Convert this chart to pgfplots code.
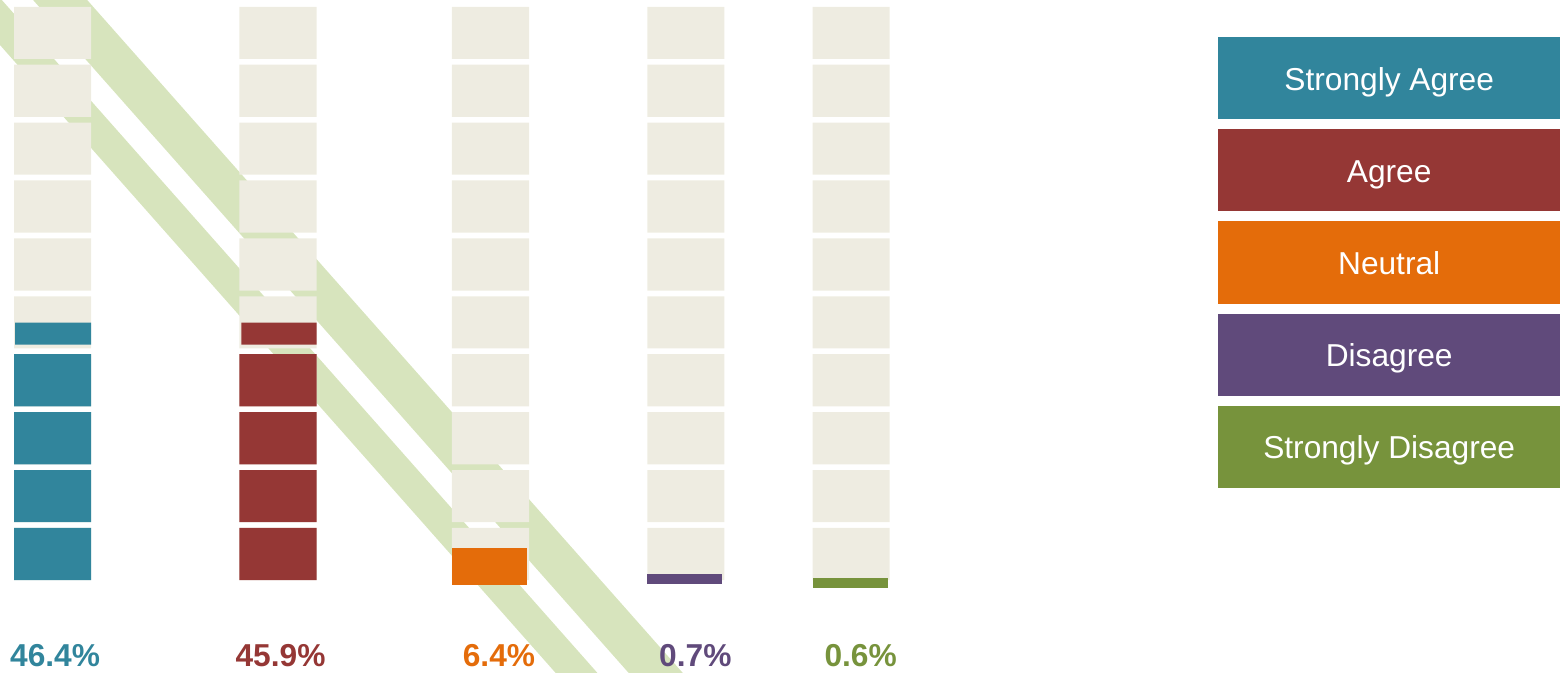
\documentclass[border=0pt]{standalone}
\usepackage{pgfplots}
\pgfplotsset{compat=1.18}
\usepackage{fontspec}
\setmainfont{Liberation Sans}

\definecolor{cSA}{HTML}{31859C}
\definecolor{cA}{HTML}{953735}
\definecolor{cN}{HTML}{E46C0A}
\definecolor{cD}{HTML}{604A7B}
\definecolor{cSD}{HTML}{77933C}
\definecolor{blk}{HTML}{EEECE1}
\definecolor{band}{HTML}{D7E4BD}

% x in pixels of the original picture, y in percent (one block = 10 %)
\begin{document}
\begin{tikzpicture}
\begin{axis}[
    width=15.6cm, height=6.71cm, scale only axis,
    xmin=0, xmax=1560, ymin=-15.92, ymax=100.17,
    hide axis, clip=true,
    unbounded coords=jump,
    every axis plot/.append style={draw=none},
]
% diagonal bands behind the columns
\addplot[fill=band] coordinates {(-57.5,103.63) (-15.9,103.63) (621.3,-20.93) (579.6,-20.93)} --cycle;
\addplot[fill=band] coordinates {(15.3,103.63) (69.3,103.63) (706.5,-20.93) (652.5,-20.93)} --cycle;

% empty blocks, ten per column
\addplot[fill=blk] coordinates {
 (14,0)(91,0)(91,9)(14,9)(nan,nan) (14,10)(91,10)(91,19)(14,19)(nan,nan)
 (14,20)(91,20)(91,29)(14,29)(nan,nan) (14,30)(91,30)(91,39)(14,39)(nan,nan)
 (14,40)(91,40)(91,49)(14,49)(nan,nan) (14,50)(91,50)(91,59)(14,59)(nan,nan)
 (14,60)(91,60)(91,69)(14,69)(nan,nan) (14,70)(91,70)(91,79)(14,79)(nan,nan)
 (14,80)(91,80)(91,89)(14,89)(nan,nan) (14,90)(91,90)(91,99)(14,99)};
\addplot[fill=blk] coordinates {
 (239,0)(316,0)(316,9)(239,9)(nan,nan) (239,10)(316,10)(316,19)(239,19)(nan,nan)
 (239,20)(316,20)(316,29)(239,29)(nan,nan) (239,30)(316,30)(316,39)(239,39)(nan,nan)
 (239,40)(316,40)(316,49)(239,49)(nan,nan) (239,50)(316,50)(316,59)(239,59)(nan,nan)
 (239,60)(316,60)(316,69)(239,69)(nan,nan) (239,70)(316,70)(316,79)(239,79)(nan,nan)
 (239,80)(316,80)(316,89)(239,89)(nan,nan) (239,90)(316,90)(316,99)(239,99)};
\addplot[fill=blk] coordinates {
 (451,0)(528,0)(528,9)(451,9)(nan,nan) (451,10)(528,10)(528,19)(451,19)(nan,nan)
 (451,20)(528,20)(528,29)(451,29)(nan,nan) (451,30)(528,30)(528,39)(451,39)(nan,nan)
 (451,40)(528,40)(528,49)(451,49)(nan,nan) (451,50)(528,50)(528,59)(451,59)(nan,nan)
 (451,60)(528,60)(528,69)(451,69)(nan,nan) (451,70)(528,70)(528,79)(451,79)(nan,nan)
 (451,80)(528,80)(528,89)(451,89)(nan,nan) (451,90)(528,90)(528,99)(451,99)};
\addplot[fill=blk] coordinates {
 (646,0)(723,0)(723,9)(646,9)(nan,nan) (646,10)(723,10)(723,19)(646,19)(nan,nan)
 (646,20)(723,20)(723,29)(646,29)(nan,nan) (646,30)(723,30)(723,39)(646,39)(nan,nan)
 (646,40)(723,40)(723,49)(646,49)(nan,nan) (646,50)(723,50)(723,59)(646,59)(nan,nan)
 (646,60)(723,60)(723,69)(646,69)(nan,nan) (646,70)(723,70)(723,79)(646,79)(nan,nan)
 (646,80)(723,80)(723,89)(646,89)(nan,nan) (646,90)(723,90)(723,99)(646,99)};
\addplot[fill=blk] coordinates {
 (811,0)(888,0)(888,9)(811,9)(nan,nan) (811,10)(888,10)(888,19)(811,19)(nan,nan)
 (811,20)(888,20)(888,29)(811,29)(nan,nan) (811,30)(888,30)(888,39)(811,39)(nan,nan)
 (811,40)(888,40)(888,49)(811,49)(nan,nan) (811,50)(888,50)(888,59)(811,59)(nan,nan)
 (811,60)(888,60)(888,69)(811,69)(nan,nan) (811,70)(888,70)(888,79)(811,79)(nan,nan)
 (811,80)(888,80)(888,89)(811,89)(nan,nan) (811,90)(888,90)(888,99)(811,99)};

% filled parts
\addplot[fill=cSA] coordinates {
 (14,0)(91,0)(91,9)(14,9)(nan,nan) (14,10)(91,10)(91,19)(14,19)(nan,nan)
 (14,20)(91,20)(91,29)(14,29)(nan,nan) (14,30)(91,30)(91,39)(14,39)(nan,nan)
 (15,40.66)(91,40.66)(91,44.46)(15,44.46)};
\addplot[fill=cA] coordinates {
 (239,0)(316,0)(316,9)(239,9)(nan,nan) (239,10)(316,10)(316,19)(239,19)(nan,nan)
 (239,20)(316,20)(316,29)(239,29)(nan,nan) (239,30)(316,30)(316,39)(239,39)(nan,nan)
 (241,40.66)(316,40.66)(316,44.46)(241,44.46)};
\addplot[fill=cN] coordinates {(451,-0.81)(526,-0.81)(526,5.54)(451,5.54)} --cycle;
\addplot[fill=cD] coordinates {(646,-0.69)(721,-0.69)(721,1.04)(646,1.04)} --cycle;
\addplot[fill=cSD] coordinates {(811,-1.38)(886,-1.38)(886,0.35)(811,0.35)} --cycle;

% percentages
\begin{scope}[every node/.style={anchor=base, inner sep=0pt, font=\fontsize{9}{11}\selectfont\bfseries}]
\node[text=cSA] at (axis cs:55,-14.88) {46.4\%};
\node[text=cA]  at (axis cs:280,-14.88) {45.9\%};
\node[text=cN]  at (axis cs:498,-14.88) {6.4\%};
\node[text=cD]  at (axis cs:694,-14.88) {0.7\%};
\node[text=cSD] at (axis cs:859,-14.88) {0.6\%};
\end{scope}

% legend
\begin{scope}[every node/.style={minimum width=34.1mm, minimum height=8.2mm, inner sep=0pt,
    text height=2.4mm, text depth=0pt, text=white, font=\fontsize{9}{11}\selectfont}]
\node[fill=cSA] at (axis cs:1386.5,86.68) {Strongly Agree};
\node[fill=cA]  at (axis cs:1386.5,70.76) {Agree};
\node[fill=cN]  at (axis cs:1386.5,54.84) {Neutral};
\node[fill=cD]  at (axis cs:1386.5,38.93) {Disagree};
\node[fill=cSD] at (axis cs:1386.5,23.01) {Strongly Disagree};
\end{scope}
\end{axis}
\end{tikzpicture}
\end{document}
